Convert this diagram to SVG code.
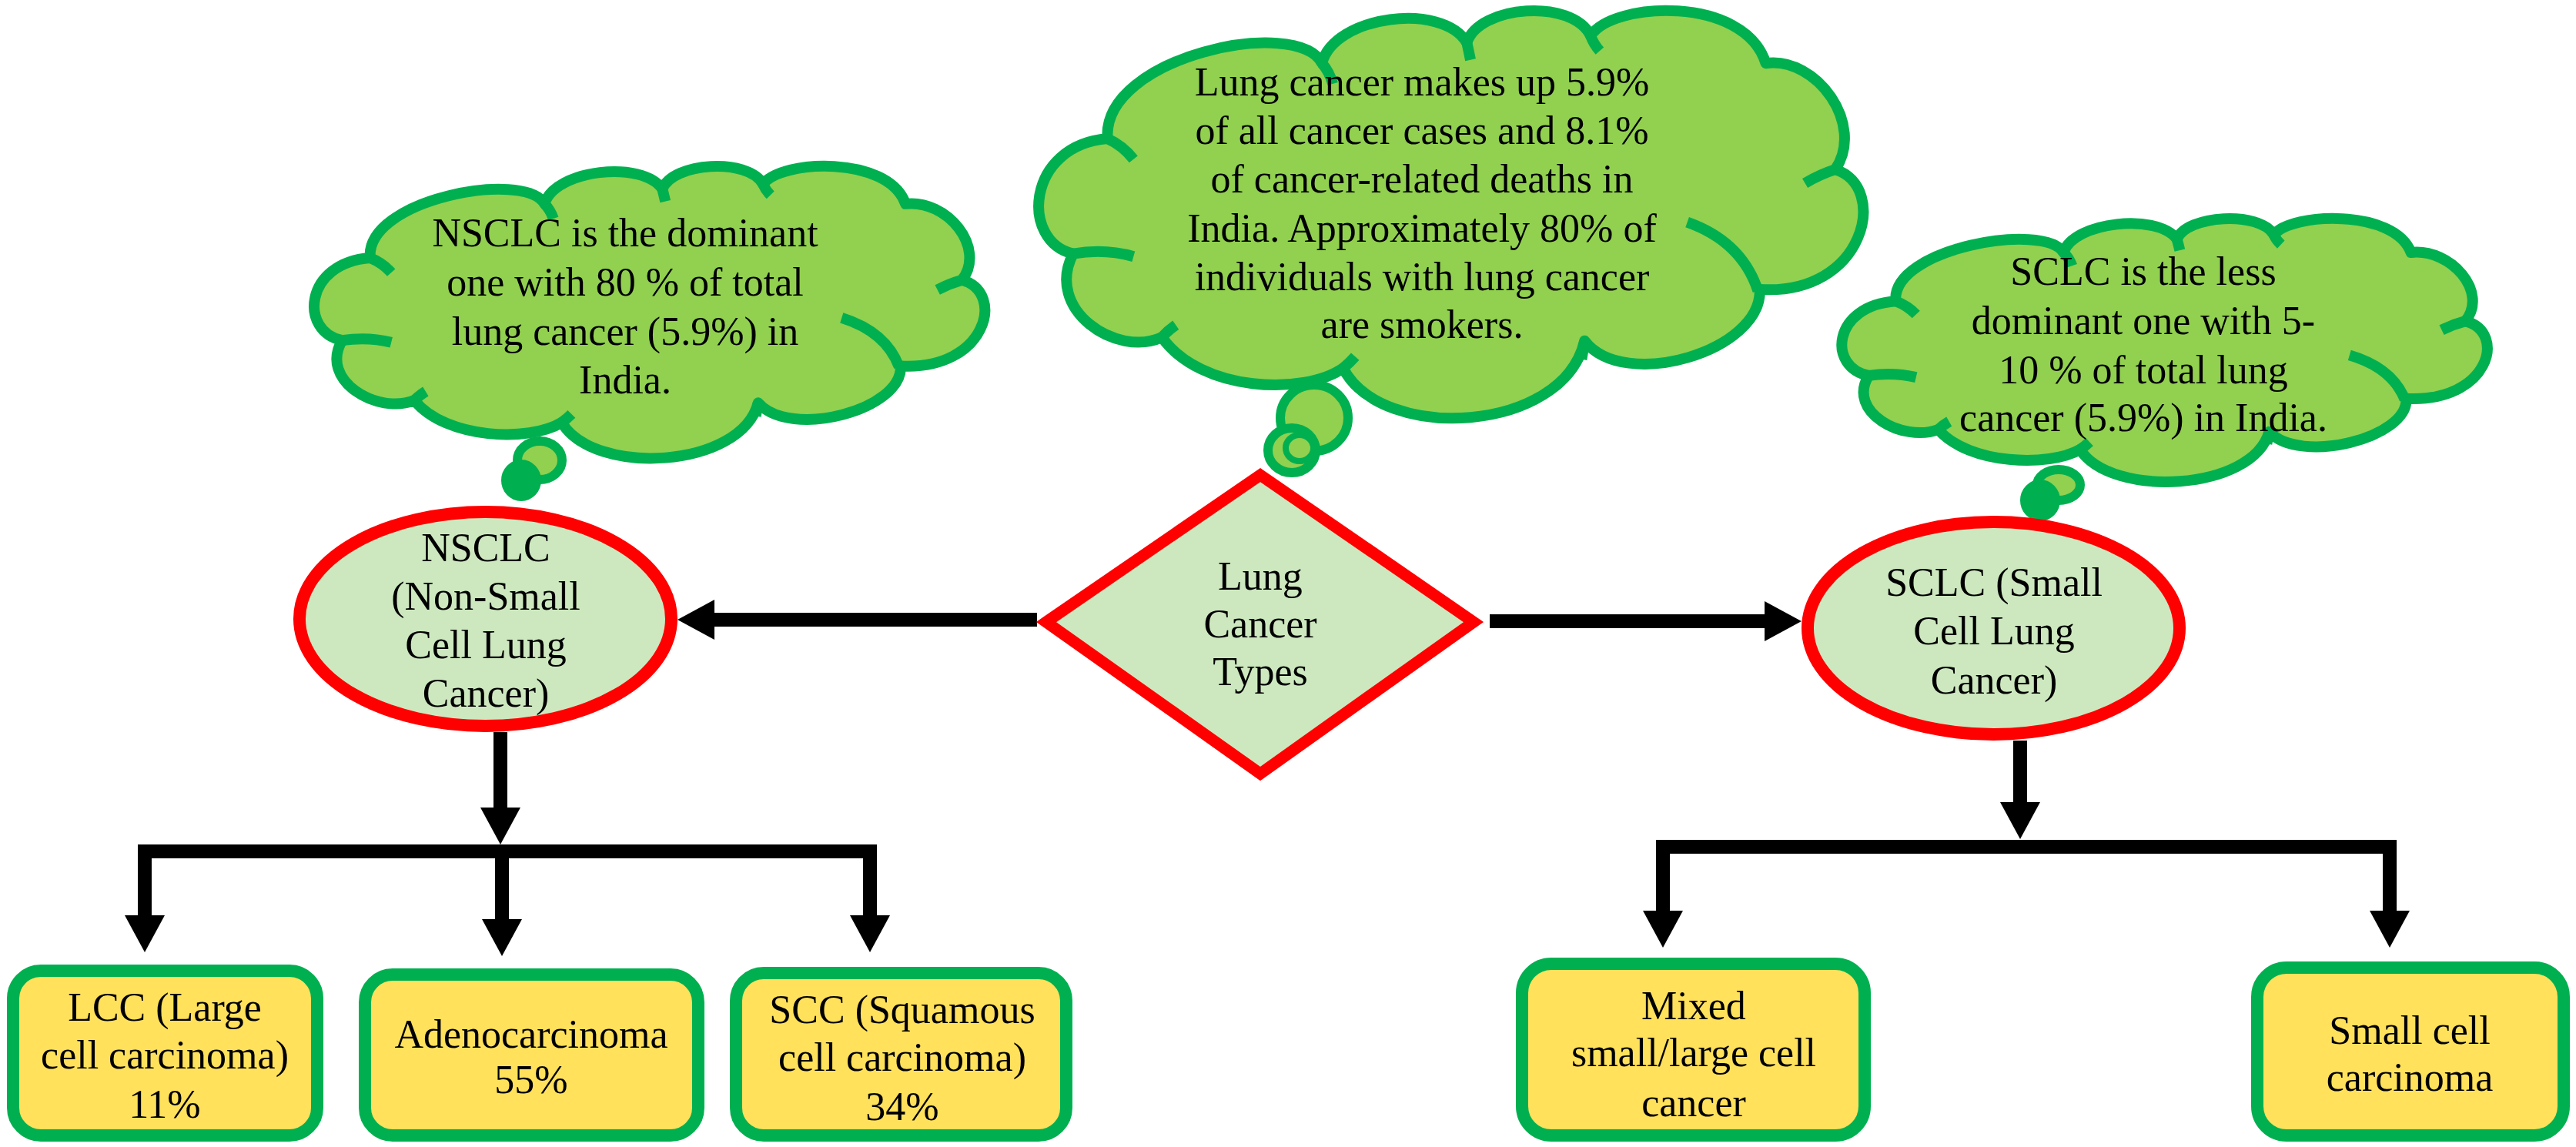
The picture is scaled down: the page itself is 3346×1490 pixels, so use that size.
<svg xmlns="http://www.w3.org/2000/svg" xmlns:xlink="http://www.w3.org/1999/xlink" width="3346" height="1490" viewBox="0 0 3346 1490">
<style>
.t{font-family:"Liberation Serif","Times New Roman",serif;font-size:52px;fill:#000;text-anchor:middle}
.cloud-body{fill:#92D050;stroke:#00B050;stroke-width:14;stroke-linejoin:round}
.cloud-crease{fill:none;stroke:#00B050;stroke-width:14;stroke-linecap:butt}
.tail-ring{fill:#92D050;stroke:#00B050;stroke-width:12}
.tail-blob{fill:#00B050;stroke:#00B050;stroke-width:4}
.oval{fill:#CDE8BF;stroke:#FF0000;stroke-width:16}
.dia{fill:#CDE8BF;stroke:#FF0000;stroke-width:15;stroke-linejoin:miter}
.box{fill:#FFE15B;stroke:#00B050;stroke-width:16}
.conn{fill:none;stroke:#000;stroke-width:18;stroke-linejoin:miter}
</style>
<defs>
<marker id="ah" markerUnits="userSpaceOnUse" viewBox="0 0 48 52" markerWidth="48" markerHeight="52" refX="0" refY="26" orient="auto-start-reverse">
<path d="M0,0 L48,26 L0,52 Z" fill="#000"/>
</marker>
<g id="cloud">
<path class="cloud-body" vector-effect="non-scaling-stroke" d="M 205 290 C 195 170 520 110 560 180 C 580 110 760 90 800 150 C 820 95 975 85 1005 140 C 1040 90 1260 80 1295 180 C 1380 170 1460 270 1410 335 C 1500 360 1460 520 1285 510 C 1290 600 1060 660 995 585 C 960 720 660 735 595 625 C 530 665 360 660 295 580 C 220 610 100 540 148 458 C 60 440 70 300 205 290 Z"/>
<path class="cloud-crease" vector-effect="non-scaling-stroke" d="M 205 290 Q 230 300 248 320 M 560 180 Q 572 192 578 210 M 800 150 Q 803 162 806 175 M 1005 140 Q 1010 152 1020 162 M 1410 335 Q 1385 342 1360 355 M 1165 412 Q 1255 440 1282 512 M 995 585 Q 993 597 990 612 M 595 625 Q 605 618 615 608 M 295 580 Q 305 570 318 562 M 148 458 Q 200 450 248 462"/>
</g>
</defs>
<rect x="0" y="0" width="3346" height="1490" fill="#FFFFFF"/>

<g id="connectors">
<line class="conn" x1="1347" y1="805" x2="928" y2="805" marker-end="url(#ah)"/>
<line class="conn" x1="1935" y1="807" x2="2292" y2="807" marker-end="url(#ah)"/>
<line class="conn" x1="650" y1="951" x2="650" y2="1049" marker-end="url(#ah)"/>
<path class="conn" d="M 188 1189 V 1106 H 1130 V 1189" marker-start="url(#ah)" marker-end="url(#ah)"/>
<line class="conn" x1="652" y1="1106" x2="652" y2="1194" marker-end="url(#ah)"/>
<line class="conn" x1="2624" y1="962" x2="2624" y2="1042" marker-end="url(#ah)"/>
<path class="conn" d="M 2160 1183 V 1100 H 3104 V 1183" marker-start="url(#ah)" marker-end="url(#ah)"/>
</g>

<g id="cloud-nsclc">
<use xlink:href="#cloud" href="#cloud" transform="translate(350,150) scale(0.638)"/>
<ellipse class="tail-ring" cx="701" cy="598" rx="29" ry="25"/>
<ellipse class="tail-blob" cx="677" cy="624" rx="24" ry="25"/>
<text class="t" x="812" y="320">NSCLC is the dominant</text>
<text class="t" x="812" y="384">one with 80 % of total</text>
<text class="t" x="812" y="448">lung cancer (5.9%) in</text>
<text class="t" x="812" y="511">India.</text>
</g>

<g id="cloud-main">
<use xlink:href="#cloud" href="#cloud" transform="translate(1277.8,-78) scale(0.7844,0.89)"/>
<ellipse class="tail-ring" cx="1707" cy="543" rx="44" ry="43"/>
<ellipse class="tail-ring" cx="1678" cy="585" rx="31" ry="29"/>
<ellipse fill="none" stroke="#00B050" stroke-width="8" cx="1688" cy="582" rx="18" ry="17"/>
<text class="t" x="1847" y="124">Lung cancer makes up 5.9%</text>
<text class="t" x="1847" y="187">of all cancer cases and 8.1%</text>
<text class="t" x="1847" y="250">of cancer-related deaths in</text>
<text class="t" x="1847" y="314">India. Approximately 80% of</text>
<text class="t" x="1847" y="377">individuals with lung cancer</text>
<text class="t" x="1847" y="439">are smokers.</text>
</g>

<g id="cloud-sclc">
<use xlink:href="#cloud" href="#cloud" transform="translate(2336.5,224.5) scale(0.614,0.575)"/>
<ellipse class="tail-ring" cx="2674" cy="630" rx="28" ry="20"/>
<ellipse class="tail-blob" cx="2650" cy="650" rx="24" ry="25"/>
<text class="t" x="2784" y="370">SCLC is the less</text>
<text class="t" x="2784" y="434">dominant one with 5-</text>
<text class="t" x="2784" y="498">10 % of total lung</text>
<text class="t" x="2784" y="560">cancer (5.9%) in India.</text>
</g>

<g id="node-types">
<polygon class="dia" points="1359,808 1637,617 1914,808 1637,1005"/>
<text class="t" x="1637" y="766">Lung</text>
<text class="t" x="1637" y="828">Cancer</text>
<text class="t" x="1637" y="890">Types</text>
</g>

<g id="node-nsclc">
<ellipse class="oval" cx="630.5" cy="804" rx="241.5" ry="139"/>
<text class="t" x="631" y="729">NSCLC</text>
<text class="t" x="631" y="792">(Non-Small</text>
<text class="t" x="631" y="855">Cell Lung</text>
<text class="t" x="631" y="918">Cancer)</text>
</g>

<g id="node-sclc">
<ellipse class="oval" cx="2589.5" cy="816" rx="241.5" ry="138"/>
<text class="t" x="2590" y="774">SCLC (Small</text>
<text class="t" x="2590" y="837">Cell Lung</text>
<text class="t" x="2590" y="901">Cancer)</text>
</g>

<g id="node-lcc">
<rect class="box" x="17" y="1261" width="395" height="214" rx="36" ry="36"/>
<text class="t" x="214" y="1326">LCC (Large</text>
<text class="t" x="214" y="1388">cell carcinoma)</text>
<text class="t" x="214" y="1452">11%</text>
</g>

<g id="node-adeno">
<rect class="box" x="474" y="1266" width="433" height="209" rx="36" ry="36"/>
<text class="t" x="690" y="1361">Adenocarcinoma</text>
<text class="t" x="690" y="1420">55%</text>
</g>

<g id="node-scc">
<rect class="box" x="956" y="1264" width="429" height="211" rx="36" ry="36"/>
<text class="t" x="1172" y="1329">SCC (Squamous</text>
<text class="t" x="1172" y="1391">cell carcinoma)</text>
<text class="t" x="1172" y="1455">34%</text>
</g>

<g id="node-mixed">
<rect class="box" x="1977" y="1252" width="445" height="223" rx="38" ry="38"/>
<text class="t" x="2200" y="1324">Mixed</text>
<text class="t" x="2200" y="1385">small/large cell</text>
<text class="t" x="2200" y="1450">cancer</text>
</g>

<g id="node-smallcell">
<rect class="box" x="2932" y="1257" width="398" height="218" rx="38" ry="38"/>
<text class="t" x="3130" y="1356">Small cell</text>
<text class="t" x="3130" y="1417">carcinoma</text>
</g>
</svg>
